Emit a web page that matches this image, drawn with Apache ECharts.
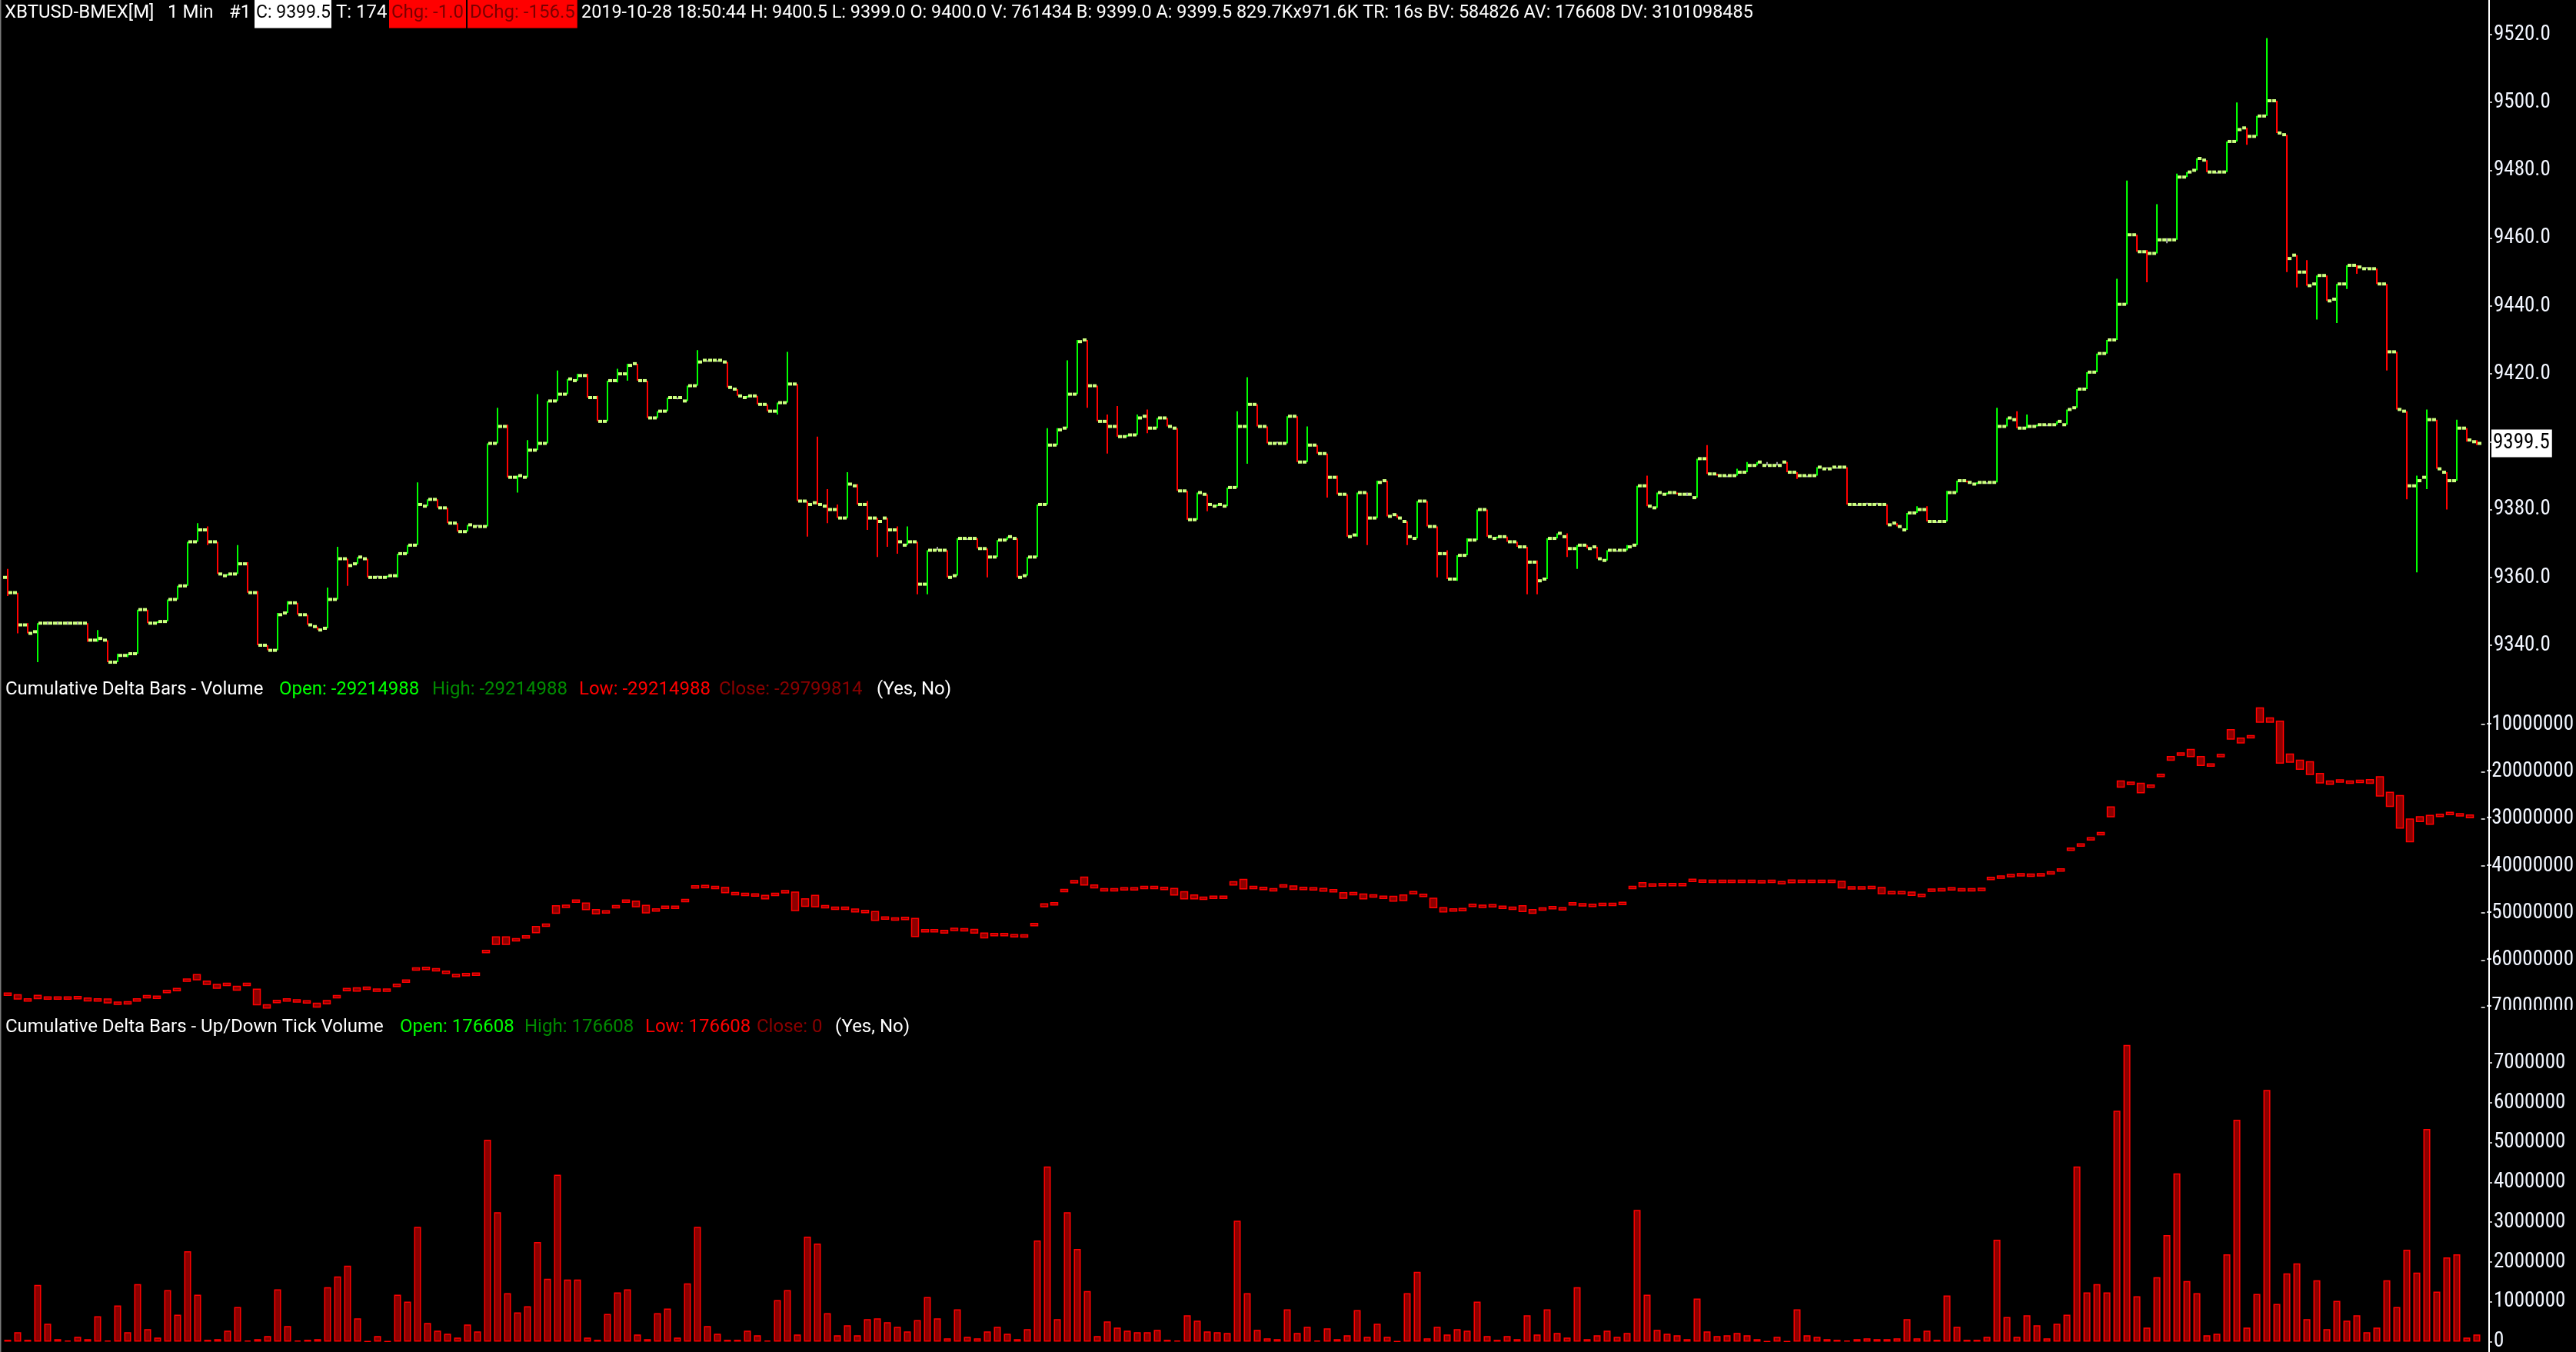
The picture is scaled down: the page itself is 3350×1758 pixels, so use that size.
<!DOCTYPE html>
<html><head><meta charset="utf-8">
<script src="https://cdn.jsdelivr.net/npm/echarts@6/dist/echarts.min.js"></script>
<style>html,body{margin:0;padding:0;background:#000;overflow:hidden}#c{width:3350px;height:1758px}</style>
</head><body><div id="c"></div>
<script>
// ---------- DATA ----------
const priceOpen = [
9360,9355.5,9346,9344,9346.5,9346.5,9346.5,9346.5,9346.5,9341.5,
9341.5,9335,9337,9337.5,9350.5,9346.5,9347,9353.5,9357.5,9370.5,
9374,9370.5,9360.5,9361,9364,9355.5,9340,9338.5,9349.5,9352.5,
9349,9345.5,9345,9353.5,9365.5,9364,9365.5,9360,9360,9360.5,
9367,9369.5,9381,9383,9380.5,9376,9373.5,9375,9375,9399.5,
9404.5,9389.5,9389.5,9397.5,9399.5,9412,9414,9418,9419.5,9413,
9406,
9418,9420,9423,9418,9407,9409,9413,9412,9416.5,
9424,9424,9423.5,9415.5,9413,9413.5,9411,9409,9411.5,9417,
9382.5,9382,9381,9380,9377.5,9387,9381.5,9377.5,9377.5,9374,
9369.5,9370.5,9358,9368,9368,9360.5,9371.5,9371.5,9368.5,9366,
9371,9371.5,9360.5,9366,9381.5,9399,9404,9414,9430,9416.5,
9406,9404.5,9401.5,9402,9407.5,9404,9407,9404,9385.5,9377,
9384.5,9381,9381,9386.5,
9404.5,9411,9404.5,9399.5,9399.5,9407.5,
9394,9399,9396.5,9389.5,9384.5,9372.5,9385,9377.5,9388.5,9378.5,
9376.5,9371.5,9382.5,9375,9367,9359.5,9366.5,9371,9380,9371.5,
9372,9370.5,9369,9364.5,9359.5,9371.5,9372,9368.5,9369.5,9369,
9365,9368,9368,9369.5,9387,9380.5,9384.5,9385,9384.5,9383.5,
9395,9390.5,9390,9390,9391,9393,9393,9393,9394,9391,
9390,9390,9392,9392.5,9392.5,9381.5,9381.5,
9381.5,9381.5,9376,
9374,9379,9380,9376.5,9376.5,9385,9388.5,9387.5,9388,9388,
9404.5,9406.5,9404,9404.5,9405,9405,9405,9410,9415.5,9420.5,
9426,9430,9440.5,9461,9456,9455.5,9459.5,9459.5,9478,9480,
9483,9479.5,9479.5,9488.5,9492.5,9490,9496,9500.5,9490.5,9455,
9450,9446.5,9449,9442,9446.5,9452,9451,9451,9446.5,9426.5,
9409,9387,9389.5,9406.5,9391,9388.5,9404,9400];
const priceHigh = [
9362.5,9355.5,9346.5,9346.5,9347,9347,9347,9347,9346.5,9344.5,
9341.5,9337.5,9337.5,9350.5,9350.5,9347,9353.5,9357.5,9370.5,9376,
9375,9370.5,9361,9369.5,9364.5,9356,9340,9349.5,9353,9352.5,
9349,9345.5,9357,9369,9365.5,9366,9365.5,9360.5,9360.5,9367,
9369.5,9388,9383,9383,9380.5,9376,9375.5,9375.5,9399.5,9410,
9405,9390,9400.5,9414,9412,9421,9418.5,9420,9420,9413.5,
9418,
9421.5,9423,9423,9418,9409,9413,9413,9416.5,9427,
9424,9424,9423.5,9415.5,9413.5,9413.5,9411,9411.5,9426.5,9417,
9382.5,9401.5,9386,9381.5,9391,9387.5,9382.5,9377.5,9377.5,9375,
9375,9370.5,9368,9369,9368,9371.5,9371.5,9371.5,9368.5,9371,
9372,9371.5,9366,9381.5,9404,9404,9424,9430,9430,9416.5,
9408,9410.5,9402,9408,9409.5,9407,9407,9404,9385.5,9385,
9384.5,9381.5,9386.5,9409,
9419,9411,9404.5,9400,9407.5,9407.5,
9404.5,9399,9396.5,9390,9384.5,9385,9385,9388.5,9388.5,9378.5,
9376.5,9382.5,9382.5,9375,9368,9366.5,9371.5,9380,9380,9372,
9372,9370.5,9369,9365,9371.5,9373,9373,9369.5,9369.5,9369,
9368,9368,9369.5,9387,9390,9385,9385,9385,9385,9395,
9399,9390.5,9390,9392,9394,9394,9394,9394,9394,9391,
9390,9392.5,9392.5,9392.5,9392.5,9381.5,9382,
9382,9381.5,9376,
9379,9381,9381,9376.5,9385.5,9388.5,9388.5,9388,9388,9410,
9407,9409,9408,9405,9405,9406,9409.5,9415.5,9420.5,9426,
9430,9448,9477,9461,9456.5,9470,9460,9479,9479.5,9483.5,
9483,9479.5,9488.5,9500,9492.5,9496,9519,9500.5,9490.5,9455,
9453.5,9449,9449,9446.5,9452,9452,9451.5,9451,9446.5,9426.5,
9409,9390,9409.5,9406.5,9391,9406.5,9404,9400.5];
const priceLow = [
9354.5,9343.5,9343.5,9335,9346,9346,9346,9346,9341,9341,
9335,9335,9336.5,9337.5,9346.5,9346.5,9347,9353.5,9357.5,9370.5,
9369.5,9361,9360.5,9361,9355.5,9340,9338.5,9338.5,9349.5,9349,
9346,9344.5,9345,9353.5,9357.5,9364,9360,9360,9360,9360,
9367,9369.5,9381,9380.5,9376,9373.5,9373.5,9375,9375,9399.5,
9389.5,9385,9389.5,9397.5,9399.5,9412,9414,9418,9413,9406,
9406,
9417.5,9418,9418,9407,9407,9409,9412.5,9412,9416.5,
9424,9424,9416,9413.5,9413,9411,9409,9408,9411.5,9382.5,
9372,9381.5,9376,9377.5,9377.5,9381.5,9374,9366,9369,9367,
9369.5,9355,9355,9368,9360,9360.5,9371.5,9368.5,9360,9366,
9371,9360,9360.5,9366,9381.5,9399,9404,9414,9410,9406,
9396.5,9401.5,9401.5,9402,9402.5,9404,9404.5,9385.5,9377,9377,
9379.5,9381,9381,9386.5,
9393.5,9404.5,9399.5,9399.5,9399.5,9394,
9394,9396.5,9383.5,9384.5,9372,9372,9369.5,9377.5,9378,9377.5,
9369.5,9371.5,9375,9360,9359.5,9359,9366.5,9371,9372,9371.5,
9370.5,9369,9355,9355,9359.5,9371.5,9366,9362.5,9368.5,9365.5,
9365,9368,9368,9369.5,9381,9380.5,9384.5,9384.5,9384,9383.5,
9390.5,9390,9390,9390,9391,9393,9393,9393,9391,9389,
9390,9390,9392,9392.5,9381.5,9381.5,9381.5,
9381.5,9375.5,9375,
9374,9379,9376.5,9376.5,9376.5,9385,9388,9387.5,9388,9388,
9404.5,9404,9404,9404.5,9405,9405,9405,9410,9415.5,9420.5,
9426,9430,9440.5,9456,9447,9455.5,9458.5,9459.5,9478,9480,
9479.5,9479.5,9479.5,9488.5,9487.5,9490,9496,9491,9450,9445.5,
9446,9436,9441.5,9435,9445,9449.5,9451,9446.5,9421,9409.5,
9383,9361.5,9386,9392,9380,9388.5,9400,9399];
const priceClose = [
9355.5,9346,9343.5,9346.5,9346.5,9346.5,9346.5,9346.5,9341.5,9342,
9335,9337,9337.5,9350.5,9346.5,9347,9353.5,9357.5,9370.5,9374,
9370.5,9361,9361,9364,9355.5,9340,9338.5,9349,9352.5,9349,
9346,9344.5,9353.5,9365.5,9363.5,9366,9360,9360,9360.5,9367,
9369.5,9381.5,9383,9380.5,9376,9373.5,9375.5,9375,9399.5,9404.5,
9389.5,9390,9397.5,9399.5,9412,9414,9418.5,9419.5,9413,9406,
9418,
9420,9422.5,9418,9407,9409,9413,9413,9416.5,9423.5,
9424,9424,9416,9413.5,9413.5,9411,9409,9411.5,9417,9382.5,
9381.5,9381.5,9380,9377.5,9387.5,9381.5,9377.5,9376.5,9374,9370.5,
9370.5,9358,9368,9368,9360,9371.5,9371.5,9368.5,9366,9371,
9372,9360,9366,9381.5,9399,9403.5,9414,9429.5,9416.5,9406,
9404.5,9401.5,9402,9407,9404,9407,9404.5,9385.5,9377,9385,
9381.5,9381.5,9386.5,9404.5,
9411,9404.5,9399.5,9399.5,9407.5,9394,
9399,9396.5,9389.5,9384.5,9372,9385,9377.5,9388,9378,9377.5,
9372,9382.5,9375,9367,9359.5,9366.5,9371,9380,9372,9372,
9370.5,9369,9364.5,9359,9371.5,9373,9368.5,9369.5,9368.5,9365.5,
9368,9368,9369,9387,9381,9385,9385,9384.5,9384.5,9395,
9390.5,9390,9390,9391,9393,9394,9393,9393,9391,9390,
9390,9392.5,9392,9392.5,9381.5,9381.5,9381.5,
9381.5,9375.5,9375,
9379,9380,9376.5,9376.5,9385,9388.5,9388,9388,9388,9404.5,
9407,9404,9404.5,9405,9405,9406,9409.5,9415.5,9420.5,9426,
9430,9440.5,9461,9456,9455.5,9459.5,9459.5,9478,9479.5,9483.5,
9479.5,9479.5,9488.5,9492,9490,9496,9500.5,9491,9454,9450,
9446,9449,9441.5,9446.5,9452,9451.5,9451,9446.5,9426.5,9409.5,
9387,9388.5,9406.5,9392,9388.5,9404,9400.5,9399.5];
// cumulative delta (volume), in millions
const deltaOpenMillions = [
-67.1,-67.4,-68.5,-68.2,-68.1,-68.1,-68.1,-68.0,-68.1,-68.5,
-68.3,-69.2,-69.1,-68.5,-67.8,-67.9,-66.7,-66.3,-64.3,-64.2,
-64.5,-65.2,-65.2,-65.6,-65.2,-66.2,-69.5,-68.8,-68.5,-68.7,
-68.9,-69.2,-69.3,-67.8,-66.3,-66.6,-66.0,-66.4,-66.4,-65.4,
-64.5,-61.9,-61.8,-62.1,-62.6,-63.3,-63.1,-63.0,-58.2,-56.7,
-55.1,-55.7,-55.1,-54.2,-52.6,-50.1,-48.6,-47.5,-47.9,-49.3,
-49.8,-48.7,-47.5,-47.5,-48.4,-49.4,-48.8,-48.8,-47.4,-44.5,
-44.4,-44.6,-44.6,-45.9,-46.1,-46.2,-46.3,-46.1,-45.5,-45.6,
-48.6,-46.3,-48.7,-49.0,-49.0,-49.2,-49.7,-49.7,-51.1,-51.3,
-51.2,-51.2,-53.8,-53.8,-53.7,-53.5,-53.6,-53.5,-54.3,-54.6,
-54.6,-54.6,-54.9,-52.5,-48.7,-48.1,-45.5,-43.4,-42.4,-44.1,
-45.1,-45.1,-44.9,-44.9,-44.6,-44.6,-44.8,-44.8,-45.5,-46.2,
-46.9,-46.7,-46.7,-44.1,-42.9,-44.6,-44.8,-45.1,-44.3,-44.3,
-44.8,-44.7,-44.8,-45.3,-45.7,-45.9,-46.0,-46.4,-46.7,-46.5,
-47.4,-45.7,-46.3,-46.9,-48.9,-49.4,-49.3,-48.4,-48.6,-48.5,
-48.8,-49.0,-48.5,-49.3,-49.2,-48.9,-48.9,-48.1,-48.3,-48.4,
-48.2,-48.2,-48.0,-44.6,-44.4,-44.1,-44.0,-44.0,-44.0,-43.1,
-43.1,-43.3,-43.3,-43.3,-43.3,-43.3,-43.4,-43.3,-43.6,-43.6,
-43.3,-43.3,-43.3,-43.3,-43.3,-44.7,-44.7,-44.6,-44.6,-45.7,
-45.7,-45.6,-46.3,-45.2,-45.1,-44.9,-45.1,-45.1,-45.0,-42.9,
-42.4,-42.1,-41.9,-42.0,-41.9,-41.5,-40.9,-36.5,-35.6,-34.3,
-33.2,-29.6,-23.3,-22.5,-22.5,-23.1,-20.8,-17.6,-16.3,-16.8,
-16.8,-18.6,-16.6,-13.1,-12.9,-12.6,-9.5,-8.6,-9.3,-16.3,
-17.6,-17.9,-20.4,-22.0,-22.0,-22.0,-22.1,-21.7,-21.1,-24.4,
-25.1,-30.1,-30.6,-31.2,-29.3,-28.9,-29.2,-29.214988];
const deltaCloseMillions = [
-67.4,-68.3,-68.5,-67.5,-68.1,-68.1,-68.1,-68.0,-68.7,-68.5,
-69.1,-69.2,-69.1,-68.5,-67.8,-67.9,-66.7,-66.3,-64.3,-63.1,
-65.2,-66.0,-65.2,-66.4,-65.2,-69.5,-70.2,-68.8,-68.5,-68.7,
-68.9,-70.0,-68.6,-67.8,-66.3,-65.9,-66.0,-66.4,-66.4,-65.4,
-64.5,-61.9,-61.8,-62.1,-62.6,-63.3,-63.1,-63.0,-58.2,-55.1,
-56.7,-55.7,-55.1,-52.9,-52.6,-48.5,-48.6,-47.5,-49.3,-50.2,
-49.8,-48.7,-47.5,-48.7,-50.0,-49.4,-48.8,-48.8,-47.4,-44.5,
-44.4,-44.6,-45.7,-45.9,-46.1,-46.2,-47.0,-46.1,-45.5,-49.5,
-47.0,-48.7,-48.7,-49.0,-49.0,-49.8,-49.7,-51.6,-51.1,-51.3,
-51.2,-55.0,-53.8,-53.8,-54.3,-53.5,-53.6,-54.3,-55.3,-54.6,
-54.6,-55.1,-54.9,-52.5,-48.1,-48.1,-45.0,-43.4,-44.1,-44.7,
-45.1,-45.1,-44.9,-44.9,-44.6,-44.6,-44.8,-46.2,-47.0,-47.0,
-46.9,-46.7,-46.7,-43.4,-44.9,-44.6,-44.8,-45.1,-44.3,-45.0,
-44.8,-45.1,-45.4,-45.3,-46.9,-45.9,-47.0,-46.4,-46.7,-47.5,
-46.2,-45.7,-46.3,-48.9,-49.8,-49.4,-49.3,-48.4,-48.6,-48.5,
-48.8,-49.0,-49.7,-50.1,-49.2,-48.9,-49.4,-48.1,-48.3,-48.4,
-48.2,-48.2,-48.0,-44.6,-43.6,-44.1,-44.0,-44.0,-44.0,-43.1,
-43.4,-43.3,-43.3,-43.3,-43.3,-43.3,-43.4,-43.3,-43.6,-43.0,
-43.3,-43.3,-43.3,-43.3,-44.7,-44.7,-44.7,-44.6,-45.9,-45.7,
-45.7,-46.3,-46.3,-45.2,-45.1,-44.9,-45.1,-45.1,-45.0,-42.5,
-42.4,-42.1,-41.9,-42.0,-41.9,-41.5,-40.9,-36.5,-35.6,-34.3,
-33.2,-27.5,-22.0,-22.5,-24.5,-23.1,-20.8,-16.8,-16.3,-15.3,
-18.7,-18.6,-16.6,-11.1,-13.9,-12.6,-6.5,-9.5,-18.2,-18.0,
-19.5,-20.6,-22.4,-22.7,-22.0,-22.5,-22.1,-22.5,-25.2,-27.4,
-32.0,-34.9,-29.6,-29.3,-29.3,-28.9,-29.2,-29.799814];
// up/down tick volume per bar
const tickVolume = [
45000,237000,45000,1426000,448000,64000,26000,121000,64000,639000,
26000,908000,237000,1445000,313000,102000,1292000,678000,2270000,1176000,
45000,64000,275000,870000,26000,64000,141000,1311000,390000,26000,
45000,64000,1368000,1637000,1905000,582000,6000,141000,6000,1176000,
1004000,2884000,467000,275000,198000,102000,428000,256000,5070000,3248000,
1215000,735000,889000,2500000,1579000,4188000,1560000,1560000,102000,45000,
697000,1234000,1311000,179000,64000,716000,831000,102000,1464000,2884000,
390000,198000,45000,45000,275000,160000,26000,1042000,1292000,179000,
2634000,2462000,716000,160000,409000,160000,563000,582000,486000,371000,
256000,543000,1119000,582000,83000,812000,121000,83000,256000,371000,
198000,64000,313000,2538000,4399000,563000,3248000,2327000,1272000,141000,
505000,352000,275000,237000,237000,294000,45000,26000,659000,524000,
256000,237000,217000,3037000,1215000,294000,83000,64000,812000,217000,
371000,26000,332000,64000,160000,793000,121000,448000,121000,6000,
1215000,1752000,83000,371000,179000,313000,275000,1004000,141000,45000,
141000,64000,659000,179000,812000,217000,102000,1368000,64000,160000,
275000,121000,217000,3306000,1176000,294000,198000,160000,64000,1081000,
256000,141000,160000,217000,160000,64000,6000,121000,6000,812000,
160000,121000,64000,45000,26000,64000,83000,64000,64000,83000,
563000,83000,275000,45000,1157000,371000,45000,45000,121000,2558000,
620000,121000,659000,409000,83000,448000,678000,4399000,1234000,1445000,
1234000,5799000,7450000,1138000,352000,1618000,2673000,4226000,1522000,1215000,
160000,198000,2193000,5569000,352000,1196000,6317000,946000,1714000,1963000,
563000,1541000,313000,1023000,524000,659000,237000,352000,1541000,870000,
2308000,1733000,5339000,1253000,2116000,2193000,102000,176608];
const priceTicks = [9340, 9520, 20];        // min, max, step
const deltaTicks = [-70000000, -10000000, 10000000];
const volumeTicks = [0, 7000000, 1000000];
const headerTexts = ['XBTUSD-BMEX[M]', '1 Min', '#1', 'C: 9399.5', 'T: 174', 'Chg: -1.0', 'DChg: -156.5',
  '2019-10-28 18:50:44 H: 9400.5 L: 9399.0 O: 9400.0 V: 761434 B: 9399.0 A: 9399.5 829.7Kx971.6K TR: 16s BV: 584826 AV: 176608 DV: 3101098485'];
const deltaPaneTexts = ['Cumulative Delta Bars - Volume', 'Open: -29214988', 'High: -29214988', 'Low: -29214988', 'Close: -29799814', '(Yes, No)'];
const tickPaneTexts = ['Cumulative Delta Bars - Up/Down Tick Volume', 'Open: 176608', 'High: 176608', 'Low: 176608', 'Close: 0', '(Yes, No)'];

// ---------- BUILD ----------
const N = priceOpen.length;
const categories = priceOpen.map((_, i) => String(i));
const priceData = priceOpen.map((o, i) => [i, o, priceHigh[i], priceLow[i], priceClose[i]]);
const deltaData = deltaOpenMillions.map((o, i) => [i, o * 1e6, deltaCloseMillions[i] * 1e6]);
const lastClose = priceClose[N - 1];

const AX_FONT = "'Liberation Sans Narrow','Roboto Condensed','DejaVu Sans Condensed',sans-serif";
const TX_FONT = "Roboto, 'Noto Sans', sans-serif";
const GL = 3.5, GR = 122.5;

function renderPrice(params, api) {
  const i = api.value(0), o = api.value(1), h = api.value(2), l = api.value(3), c = api.value(4);
  const pO = api.coord([i, o]), pH = api.coord([i, h]), pL = api.coord([i, l]), pC = api.coord([i, c]);
  const x = Math.round(pO[0]);
  const col = c > o ? '#00ff00' : (c < o ? '#ff0000' : '#9a9a9a');
  const hh = Math.max(pL[1] - pH[1], 2);
  return { type: 'group', children: [
    { type: 'rect', shape: { x: x - 1, y: pH[1], width: 2, height: hh }, style: { fill: col } },
    { type: 'rect', shape: { x: x - 6, y: pO[1] - 2, width: 5, height: 4 }, style: { fill: '#ccff80' } },
    { type: 'rect', shape: { x: x + 1, y: pC[1] - 2, width: 5, height: 4 }, style: { fill: '#ccff80' } }
  ]};
}
function renderDelta(params, api) {
  const i = api.value(0), o = api.value(1), c = api.value(2);
  const pO = api.coord([i, o]), pC = api.coord([i, c]);
  const x = Math.round(pO[0]);
  let top = Math.min(pO[1], pC[1]);
  let hgt = Math.abs(pO[1] - pC[1]);
  if (hgt < 3) { top -= (3 - hgt) / 2; hgt = 3; }
  return { type: 'rect', shape: { x: x - 4.5, y: top, width: 9, height: hgt },
    style: { fill: '#8c0000', stroke: '#ff0000', lineWidth: 1.5 } };
}
// last-price badge on the price axis, positioned through the price scale
function renderLast(params, api) {
  const p = api.coord([N - 1, api.value(1)]);
  return { type: 'text', z2: 100, style: {
    text: api.value(1).toFixed(1), x: 3240, y: p[1], verticalAlign: 'middle', align: 'left',
    fill: '#000000', backgroundColor: '#ffffff', padding: [5, 3, 4, 2],
    font: '27px ' + AX_FONT } };
}

function yAxisCfg(gi, t, fmt) {
  return {
    type: 'value', gridIndex: gi, position: 'right', offset: 8.5,
    min: t[0], max: t[1], interval: t[2], scale: true,
    splitLine: { show: false }, axisLine: { show: false },
    axisTick: { show: true, length: 5, lineStyle: { color: '#ffffff', width: 1.5 } },
    axisLabel: { show: true, color: '#f2f6ff', fontFamily: AX_FONT, fontSize: 27, margin: 7,
      formatter: fmt }
  };
}
function xAxisCfg(gi) {
  return { type: 'category', gridIndex: gi, data: categories, boundaryGap: true, show: false };
}

function txt(text, x, y, fill, size, extra) {
  return Object.assign({ type: 'text', z: 100, silent: true,
    style: Object.assign({ text: text, x: x, y: y, fill: fill, font: size + 'px ' + TX_FONT, verticalAlign: 'middle' }, extra || {}) });
}
const HY = 17, DY = 897, VY = 1336;
const boxPad = [8, 3, 7, 3];
const graphics = [
  { type: 'rect', z: 90, silent: true, shape: { x: 3236, y: 0, width: 2, height: 1758 }, style: { fill: '#ffffff' } },
  { type: 'rect', z: 90, silent: true, shape: { x: 0, y: 0, width: 1.5, height: 1758 }, style: { fill: '#7a7a7a' } },
  { type: 'rect', z: 95, silent: true, shape: { x: 3239, y: 1313, width: 111, height: 20 }, style: { fill: '#000000' } },
  txt(headerTexts[0], 6, HY, '#ffffff', 24),
  txt(headerTexts[1], 218, HY, '#ffffff', 24),
  txt(headerTexts[2], 298, HY, '#ffffff', 24),
  txt(headerTexts[3], 331, HY, '#000000', 23, { backgroundColor: '#ffffff', padding: [8, 1, 8, 2] }),
  txt(headerTexts[4], 437, HY, '#ffffff', 24),
  txt(headerTexts[5], 506, HY, '#7a0000', 24, { backgroundColor: '#ff0000', padding: boxPad }),
  txt(headerTexts[6], 608, HY, '#7a0000', 24, { backgroundColor: '#ff0000', padding: boxPad }),
  txt(headerTexts[7], 756, HY, '#ffffff', 23.4),
  txt(deltaPaneTexts[0], 7, DY, '#ffffff', 24),
  txt(deltaPaneTexts[1], 363, DY, '#00ff00', 24),
  txt(deltaPaneTexts[2], 562, DY, '#008a00', 24),
  txt(deltaPaneTexts[3], 753, DY, '#ff0000', 24),
  txt(deltaPaneTexts[4], 935, DY, '#8a0000', 24),
  txt(deltaPaneTexts[5], 1140, DY, '#ffffff', 24),
  txt(tickPaneTexts[0], 7, VY, '#ffffff', 24),
  txt(tickPaneTexts[1], 520, VY, '#00ff00', 24),
  txt(tickPaneTexts[2], 682, VY, '#008a00', 24),
  txt(tickPaneTexts[3], 839, VY, '#ff0000', 24),
  txt(tickPaneTexts[4], 984, VY, '#8a0000', 24),
  txt(tickPaneTexts[5], 1086, VY, '#ffffff', 24)
];
const lens = [priceHigh.length, priceLow.length, priceClose.length, deltaOpenMillions.length, deltaCloseMillions.length, tickVolume.length];
if (lens.some(v => v !== N)) graphics.push(txt('LEN MISMATCH ' + N + ' ' + lens.join(','), 1500, 1000, '#ffff00', 24));

const chart = echarts.init(document.getElementById('c'), null, { renderer: 'canvas' });
chart.setOption({
  backgroundColor: '#000000',
  animation: false,
  grid: [
    { left: GL, right: GR, top: 45, height: 794 },
    { left: GL, right: GR, top: 942, height: 367.5 },
    { left: GL, right: GR, top: 1382, height: 365.5 }
  ],
  xAxis: [xAxisCfg(0), xAxisCfg(1), xAxisCfg(2)],
  yAxis: [
    yAxisCfg(0, priceTicks, v => v.toFixed(1)),
    yAxisCfg(1, deltaTicks, v => String(v)),
    yAxisCfg(2, volumeTicks, v => String(v))
  ],
  series: [
    { type: 'custom', name: 'price', xAxisIndex: 0, yAxisIndex: 0, clip: false,
      renderItem: renderPrice, encode: { x: 0, y: [1, 2, 3, 4] }, data: priceData, z: 5 },
    { type: 'custom', name: 'last', xAxisIndex: 0, yAxisIndex: 0, clip: false, silent: true, z: 50,
      renderItem: renderLast, encode: { x: 0, y: 1 }, data: [[N - 1, lastClose]] },
    { type: 'custom', name: 'delta', xAxisIndex: 1, yAxisIndex: 1, clip: false,
      renderItem: renderDelta, encode: { x: 0, y: [1, 2] }, data: deltaData },
    { type: 'bar', name: 'tickvol', xAxisIndex: 2, yAxisIndex: 2, data: tickVolume, barWidth: 9, clip: false,
      itemStyle: { color: '#8c0000', borderColor: '#ff0000', borderWidth: 1.5 } }
  ],
  graphic: graphics
});
</script></body></html>
